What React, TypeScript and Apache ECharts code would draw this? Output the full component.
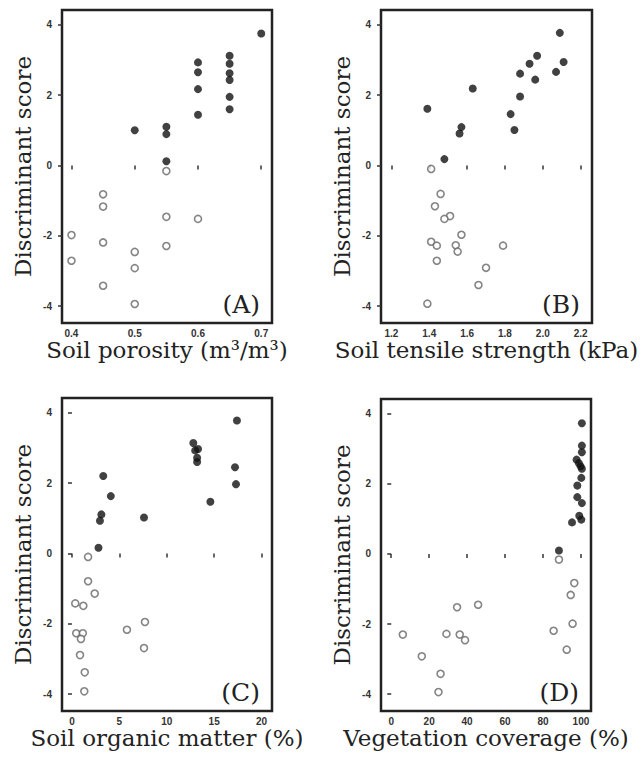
import React, { useEffect, useRef } from "react";
import * as echarts from "echarts";

// ---- Data (x, discriminant score) ----
// Panel A: Soil porosity (m3/m3)
const porosityGroupFilled: number[][] = [
  [0.70, 3.75], [0.60, 2.93], [0.60, 2.65], [0.60, 2.17], [0.60, 1.44],
  [0.65, 3.12], [0.65, 2.89], [0.65, 2.62], [0.65, 2.43], [0.65, 1.95], [0.65, 1.60],
  [0.50, 1.00], [0.55, 1.10], [0.55, 0.89], [0.55, 0.12],
];
const porosityGroupOpen: number[][] = [
  [0.55, -0.16], [0.55, -1.46], [0.55, -2.29], [0.60, -1.52],
  [0.45, -0.82], [0.45, -1.17], [0.45, -2.19], [0.45, -3.42],
  [0.40, -1.98], [0.40, -2.71],
  [0.50, -2.46], [0.50, -2.92], [0.50, -3.94],
];

// Panel B: Soil tensile strength (kPa)
const tensileGroupFilled: number[][] = [
  [1.39, 1.61], [1.48, 0.18], [1.56, 0.91], [1.57, 1.09], [1.63, 2.19],
  [1.83, 1.46], [1.85, 1.01], [1.88, 1.96], [1.88, 2.61], [1.93, 2.89],
  [1.96, 2.44], [1.97, 3.12], [2.07, 2.66], [2.09, 3.77], [2.11, 2.94],
];
const tensileGroupOpen: number[][] = [
  [1.41, -0.10], [1.46, -0.81], [1.43, -1.16], [1.51, -1.44], [1.48, -1.52],
  [1.57, -1.97], [1.41, -2.17], [1.44, -2.28], [1.54, -2.27], [1.55, -2.45],
  [1.44, -2.71], [1.79, -2.28], [1.70, -2.91], [1.66, -3.40], [1.39, -3.93],
];

// Panel C: Soil organic matter (%)
const organicGroupFilled: number[][] = [
  [17.4, 3.78], [12.8, 3.14], [13.0, 2.93], [13.3, 2.97], [13.2, 2.72],
  [13.2, 2.60], [17.2, 2.45], [17.3, 1.97], [14.6, 1.47], [3.3, 2.20],
  [4.1, 1.63], [3.1, 1.11], [2.95, 0.93], [7.6, 1.02], [2.8, 0.16],
];
const organicGroupOpen: number[][] = [
  [1.7, -0.10], [1.7, -0.79], [2.4, -1.14], [0.35, -1.42], [1.2, -1.49],
  [0.45, -2.27], [1.15, -2.27], [0.95, -2.43], [0.85, -2.89], [1.35, -3.38],
  [1.3, -3.92], [5.8, -2.17], [7.7, -1.95], [7.6, -2.69],
];

// Panel D: Vegetation coverage (%)
const vegetationGroupFilled: number[][] = [
  [100.5, 3.73], [100.5, 3.09], [100.5, 2.90], [97.7, 2.69], [98.9, 2.59],
  [99.8, 2.50], [100.5, 2.43], [100.2, 2.17], [98.1, 1.95], [98.1, 1.62],
  [100.5, 1.45], [99.1, 1.09], [100.2, 0.98], [95.3, 0.90], [88.4, 0.10],
];
const vegetationGroupOpen: number[][] = [
  [88.4, -0.16], [96.5, -0.83], [94.6, -1.17], [95.6, -1.99], [85.6, -2.19],
  [92.5, -2.73], [6.1, -2.30], [16.1, -2.92], [26.0, -3.42], [24.9, -3.94],
  [29.1, -2.28], [34.7, -1.52], [36.1, -2.30], [38.9, -2.46], [45.8, -1.45],
];

// Tick labels
const yTicks = [-4, -2, 0, 2, 4];
const porosityTicks = [0.4, 0.5, 0.6, 0.7];
const tensileTicks = [1.2, 1.4, 1.6, 1.8, 2.0, 2.2];
const organicTicks = [0, 5, 10, 15, 20];
const vegetationTicks = [0, 20, 40, 60, 80, 100];

const xNames = [
  "Soil porosity (m³/m³)",
  "Soil tensile strength (kPa)",
  "Soil organic matter (%)",
  "Vegetation coverage (%)",
];
const panelLabels = ["(A)", "(B)", "(C)", "(D)"];
const yName = "Discriminant score";

const SERIF = "DejaVu Serif";
const SANS = "Liberation Sans";

export default function App() {
  const ref = useRef<HTMLDivElement>(null);

  useEffect(() => {
    if (!ref.current) return;
    const chart = echarts.init(ref.current, undefined, { renderer: "svg" });

    const grids = [
      { left: 62, top: 10, width: 210, height: 313 },
      { left: 381, top: 10, width: 211, height: 313 },
      { left: 62, top: 398, width: 210, height: 313 },
      { left: 381, top: 399, width: 210, height: 312 },
    ];
    const xRanges = [
      [0.385, 0.717],
      [1.145, 2.26],
      [-1.05, 21.1],
      [-5.4, 105.3],
    ];
    const xTickSets = [porosityTicks, tensileTicks, organicTicks, vegetationTicks];
    const xFormat = [
      (v: number) => v.toFixed(1),
      (v: number) => v.toFixed(1),
      (v: number) => String(v),
      (v: number) => String(v),
    ];
    const filled = [porosityGroupFilled, tensileGroupFilled, organicGroupFilled, vegetationGroupFilled];
    const open = [porosityGroupOpen, tensileGroupOpen, organicGroupOpen, vegetationGroupOpen];

    const labelStyle = { fontSize: 10, fontWeight: "bold" as const, color: "#333", fontFamily: SANS };
    const tickStyle = { show: true, length: 4, lineStyle: { color: "#333", width: 1.5 } };

    const option: any = {
      animation: false,
      backgroundColor: "#fff",
      grid: grids.map((g) => ({
        ...g,
        show: true,
        borderColor: "#222",
        borderWidth: 2.5,
        backgroundColor: "transparent",
        containLabel: false,
      })),
      xAxis: grids.map((_, i) => ({
        type: "value",
        gridIndex: i,
        min: xRanges[i][0],
        max: xRanges[i][1],
        name: xNames[i],
        nameLocation: "middle",
        nameGap: 10,
        nameTextStyle: { fontFamily: SERIF, fontSize: 23, color: "#222", verticalAlign: "top" },
        axisLine: { show: false },
        axisTick: { ...tickStyle, customValues: xTickSets[i] },
        axisLabel: { ...labelStyle, margin: 5, customValues: xTickSets[i], formatter: xFormat[i] },
        splitLine: { show: false },
      })),
      yAxis: grids.map((_, i) => ({
        type: "value",
        gridIndex: i,
        min: -4.48,
        max: 4.42,
        name: yName,
        nameLocation: "middle",
        nameGap: 28,
        nameTextStyle: { fontFamily: SERIF, fontSize: 23, color: "#222" },
        axisLine: { show: false },
        axisTick: { ...tickStyle, customValues: yTicks },
        axisLabel: { ...labelStyle, margin: 10, customValues: yTicks },
        splitLine: { show: false },
      })),
      series: [
        ...filled.map((d, i) => ({
          type: "scatter",
          xAxisIndex: i,
          yAxisIndex: i,
          data: d,
          symbol: "circle",
          symbolSize: 8,
          itemStyle: { color: "#111" },
        })),
        ...open.map((d, i) => ({
          type: "scatter",
          xAxisIndex: i,
          yAxisIndex: i,
          data: d,
          symbol: "circle",
          symbolSize: 7,
          itemStyle: { color: "#fff", borderColor: "#666", borderWidth: 1.6 },
        })),
      ],
      graphic: panelLabels.map((t, i) => ({
        type: "text",
        x: grids[i].left + grids[i].width - 12,
        y: grids[i].top + grids[i].height - 6,
        style: {
          text: t,
          fill: "#222",
          font: `25px "${SERIF}"`,
          align: "right",
          verticalAlign: "bottom",
        },
        z: 100,
      })),
    };

    chart.setOption(option);
    return () => chart.dispose();
  }, []);

  return (
    <div
      ref={ref}
      style={{ position: "absolute", left: 0, top: 0, width: 641, height: 760 }}
    />
  );
}
